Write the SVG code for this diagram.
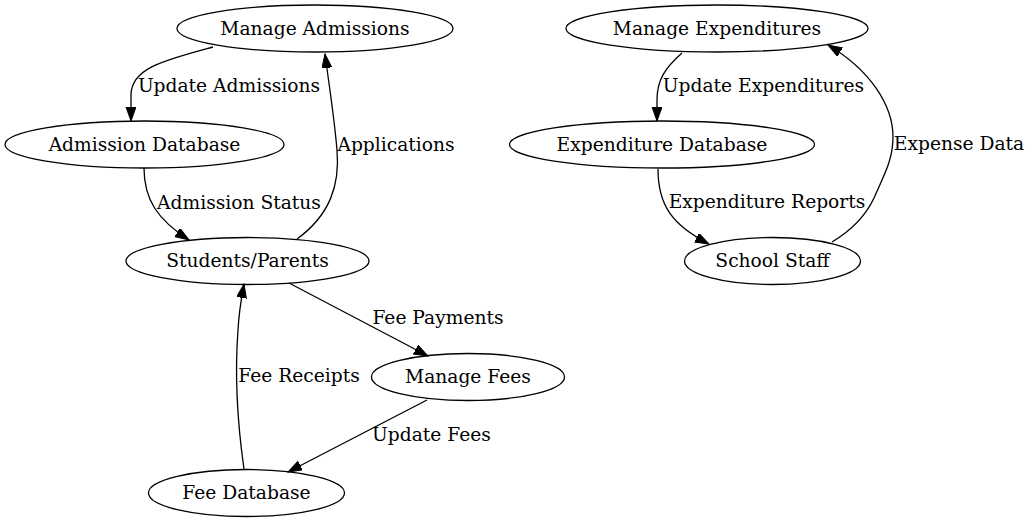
<svg xmlns="http://www.w3.org/2000/svg" width="1032" height="523" viewBox="0 0 1032 523">
<style>
.n{fill:none;stroke:#000;stroke-width:1.3}
.t{font-family:"DejaVu Serif",serif;font-size:18.67px;fill:#000;text-anchor:middle}
.e{fill:none;stroke:#000;stroke-width:1.3}
</style>
<defs>
<marker id="ah" markerUnits="userSpaceOnUse" markerWidth="15" markerHeight="11" refX="14" refY="5" orient="auto">
<path d="M0,0 L14,5 L0,10 z" fill="#000" stroke="#000" stroke-width="1"/>
</marker>
</defs>
<rect width="1032" height="523" fill="#fff"/>
<g id="connectors">
<path class="e" marker-end="url(#ah)" d="M213,47 C165,60 131,68 131,95 L131,121"/>
<path class="e" marker-end="url(#ah)" d="M297,239 C330,215 340,185 337,150 C334,115 329,85 325,54"/>
<path class="e" marker-end="url(#ah)" d="M144,168 C144,200 158,220 189,240"/>
<path class="e" marker-end="url(#ah)" d="M289,283 L428,356"/>
<path class="e" marker-end="url(#ah)" d="M427,400 L288,472"/>
<path class="e" marker-end="url(#ah)" d="M244,469 C237,420 235,370 238,330 C239,310 242,295 244,284"/>
<path class="e" marker-end="url(#ah)" d="M682,53 C665,68 657,80 657,100 L657,121"/>
<path class="e" marker-end="url(#ah)" d="M658,169 C658,205 672,225 709,244"/>
<path class="e" marker-end="url(#ah)" d="M832,242 C852,230 866,215 874,198 C884,175 893,160 893,137 C893,105 870,70 828,45"/>
<text class="t" x="229" y="92">Update Admissions</text>
<text class="t" x="396" y="150.5">Applications</text>
<text class="t" x="239" y="208.5">Admission Status</text>
<text class="t" x="438" y="324">Fee Payments</text>
<text class="t" x="299" y="382">Fee Receipts</text>
<text class="t" x="431.5" y="441">Update Fees</text>
<text class="t" x="763.5" y="92">Update Expenditures</text>
<text class="t" x="767" y="208">Expenditure Reports</text>
<text class="t" x="959" y="150">Expense Data</text>
</g>
<g id="manage-admissions"><ellipse class="n" cx="315" cy="28.5" rx="138" ry="23.5"/><text class="t" x="315" y="34.5">Manage Admissions</text></g>
<g id="admission-database"><ellipse class="n" cx="144.5" cy="144.5" rx="139.5" ry="23.5"/><text class="t" x="144.5" y="150.5">Admission Database</text></g>
<g id="students-parents"><ellipse class="n" cx="247.5" cy="261" rx="121.5" ry="23.5"/><text class="t" x="247.5" y="267">Students/Parents</text></g>
<g id="manage-fees"><ellipse class="n" cx="468" cy="377" rx="96.5" ry="23.5"/><text class="t" x="468" y="383">Manage Fees</text></g>
<g id="fee-database"><ellipse class="n" cx="246.5" cy="493" rx="98" ry="23.5"/><text class="t" x="246.5" y="499">Fee Database</text></g>
<g id="manage-expenditures"><ellipse class="n" cx="717" cy="28.5" rx="151" ry="23.5"/><text class="t" x="717" y="34.5">Manage Expenditures</text></g>
<g id="expenditure-database"><ellipse class="n" cx="662" cy="144.5" rx="152.5" ry="23.5"/><text class="t" x="662" y="150.5">Expenditure Database</text></g>
<g id="school-staff"><ellipse class="n" cx="772.5" cy="261" rx="88" ry="23.5"/><text class="t" x="772.5" y="267">School Staff</text></g>
</svg>
